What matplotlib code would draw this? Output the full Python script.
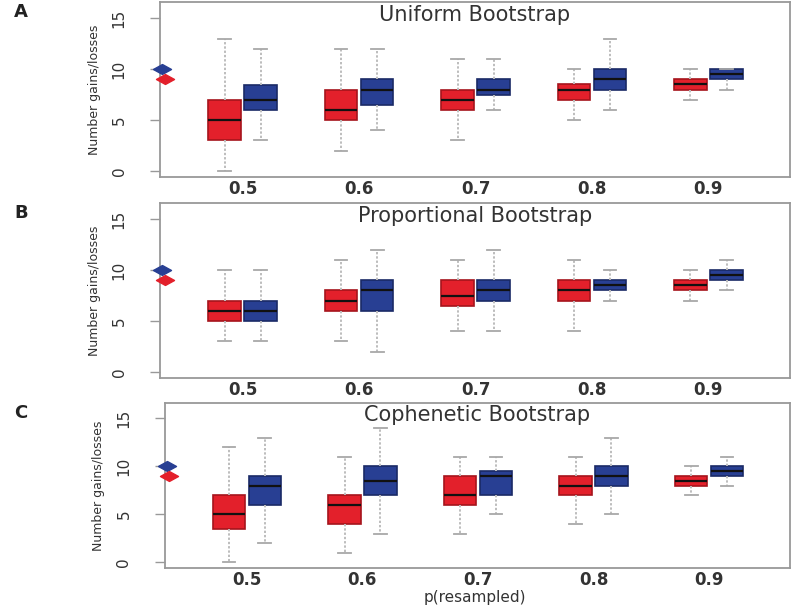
import numpy as np
import matplotlib
matplotlib.use("Agg")
import matplotlib.pyplot as plt
from matplotlib.path import Path

# groups on the x axis
groups = ["0.5", "0.6", "0.7", "0.8", "0.9"]

# each entry: [whisker low, q1, median, q3, whisker high]
uniform_red = [[0, 3, 5, 7, 13], [2, 5, 6, 8, 12], [3, 6, 7, 8, 11],
               [5, 7, 8, 8.5, 10], [7, 8, 8.5, 9, 10]]
uniform_blue = [[3, 6, 7, 8.4, 12], [4, 6.5, 8, 9, 12], [6, 7.5, 8, 9, 11],
                [6, 8, 9, 10, 13], [8, 9, 9.5, 10, 10]]

prop_red = [[3, 5, 6, 7, 10], [3, 6, 7, 8, 11], [4, 6.5, 7.5, 9, 11],
            [4, 7, 8, 9, 11], [7, 8, 8.5, 9, 10]]
prop_blue = [[3, 5, 6, 7, 10], [2, 6, 8, 9, 12], [4, 7, 8, 9, 12],
             [7, 8, 8.5, 9, 10], [8, 9, 9.5, 10, 11]]

coph_red = [[0, 3.5, 5, 7, 12], [1, 4, 6, 7, 11], [3, 6, 7, 9, 11],
            [4, 7, 8, 9, 11], [7, 8, 8.5, 9, 10]]
coph_blue = [[2, 6, 8, 9, 13], [3, 7, 8.5, 10, 14], [5, 7, 9, 9.5, 11],
             [5, 8, 9, 10, 13], [8, 9, 9.5, 10, 11]]

# observed values shown as diamonds on the left edge
observed_red = 9
observed_blue = 10

titles = ["Uniform Bootstrap", "Proportional Bootstrap", "Cophenetic Bootstrap"]
letters = ["A", "B", "C"]
panels = [(uniform_red, uniform_blue), (prop_red, prop_blue), (coph_red, coph_blue)]

RED = "#e3202b"
BLUE = "#283f93"
GREY = "#999999"
TEXT = "#333333"

# flattened diamond marker
diamond = Path([(-1, 0), (0, 0.55), (1, 0), (0, -0.55), (-1, 0)],
               [Path.MOVETO, Path.LINETO, Path.LINETO, Path.LINETO, Path.CLOSEPOLY])


def to_stats(rows):
    out = []
    for lo, q1, med, q3, hi in rows:
        out.append(dict(whislo=lo, q1=q1, med=med, q3=q3, whishi=hi, fliers=[]))
    return out


def draw_boxes(ax, rows, pos, color, edge):
    ax.bxp(to_stats(rows), positions=pos, widths=0.28, capwidths=0.11,
           patch_artist=True, showfliers=False, manage_ticks=False,
           boxprops=dict(facecolor=color, edgecolor=edge, linewidth=1.2),
           medianprops=dict(color="#111111", linewidth=1.6),
           whiskerprops=dict(color="#bdbdbd", linewidth=1.4, linestyle=(0, (1.2, 1.0))),
           capprops=dict(color="#a8a8a8", linewidth=1.3))


fig = plt.figure(figsize=(8, 6.05), dpi=100)

axes_rects = [[0.200, 0.7074, 0.7875, 0.2893],
              [0.200, 0.3752, 0.7875, 0.2893],
              [0.206, 0.0610, 0.7815, 0.2729]]

x = np.arange(1, len(groups) + 1)

for i, ax_rect in enumerate(axes_rects):
    ax = fig.add_axes(ax_rect)
    red_rows, blue_rows = panels[i]
    draw_boxes(ax, red_rows, x - 0.155, RED, "#a5141c")
    draw_boxes(ax, blue_rows, x + 0.155, BLUE, "#1a2a66")

    ax.plot([0.31], [observed_blue], marker=diamond, markersize=13, color=BLUE,
            clip_on=False, zorder=5, linestyle="none")
    ax.plot([0.33], [observed_red], marker=diamond, markersize=13, color=RED,
            clip_on=False, zorder=5, linestyle="none")

    ax.set_xlim(0.29, 5.70)
    ax.set_ylim(-0.6, 16.6)
    ax.set_xticks(x)
    ax.set_xticklabels(groups, fontsize=12, fontweight="bold", color=TEXT)
    ax.tick_params(axis="x", length=0, pad=2)
    ax.set_yticks([0, 5, 10, 15])
    ax.set_yticklabels(["0", "5", "10", "15"], rotation=90, va="center",
                       fontsize=11, color=TEXT)
    ax.tick_params(axis="y", length=7, width=1, color=GREY, pad=17)
    for s in ax.spines.values():
        s.set_color(GREY)
        s.set_linewidth(1.3)

    ax.set_ylabel("Number gains/losses", fontsize=9, color=TEXT, labelpad=8)
    ax.text(0.5, 0.985, titles[i], transform=ax.transAxes, ha="center", va="top",
            fontsize=15, color=TEXT)
    fig.text(0.018, ax_rect[1] + ax_rect[3] - 0.002, letters[i], ha="left", va="top",
             fontsize=13, fontweight="bold", color="#222222")

fig.text(0.594, 0.0005, "p(resampled)", ha="center", va="bottom", fontsize=11,
         color=TEXT)

fig.savefig("out.png", dpi=100)
